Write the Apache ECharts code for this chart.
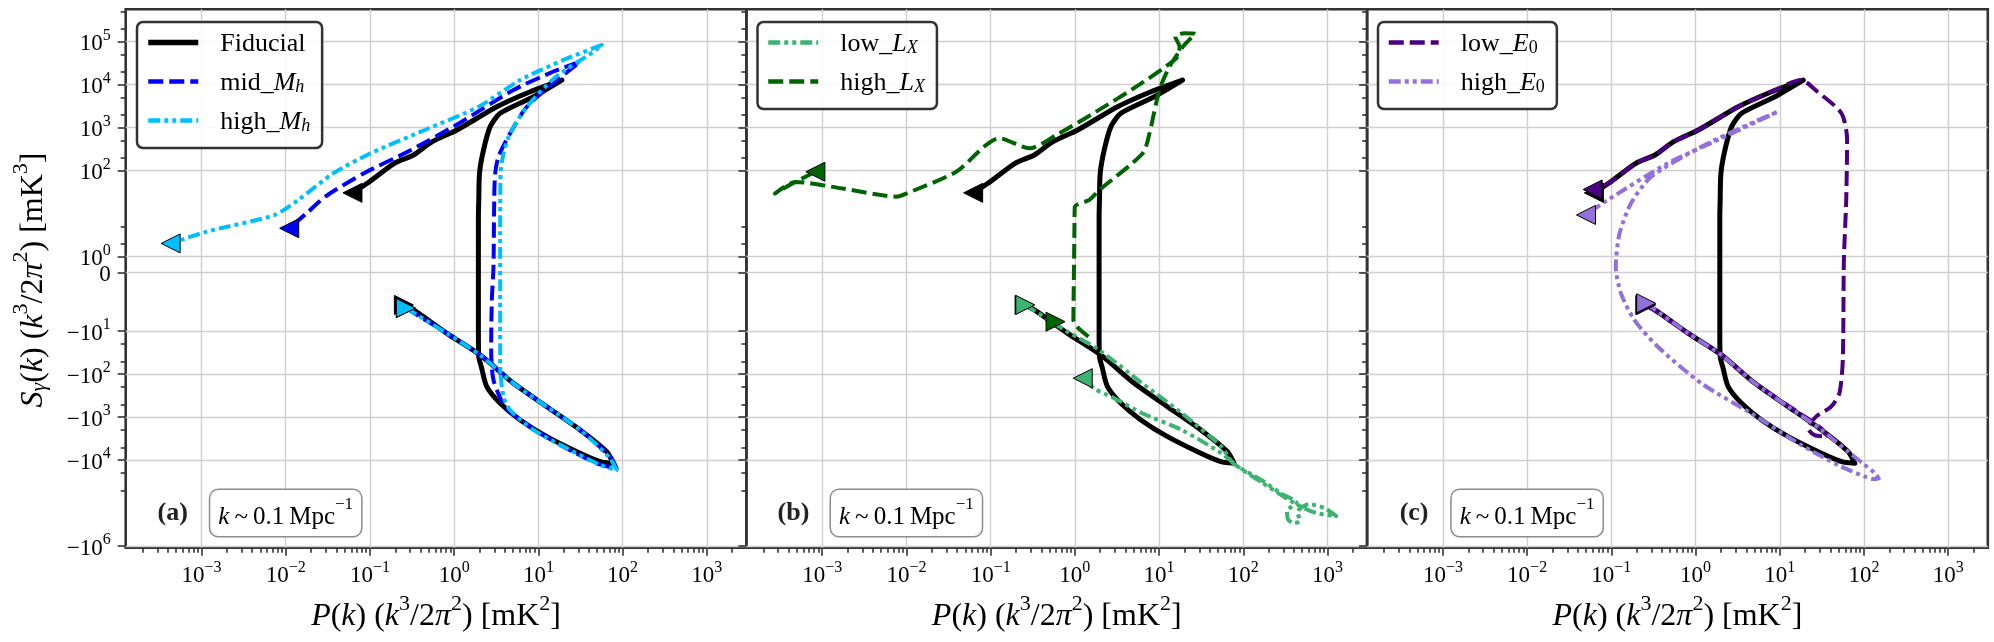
<!DOCTYPE html>
<html>
<head>
<meta charset="utf-8">
<script src="https://cdn.jsdelivr.net/npm/echarts@6/dist/echarts.min.js"></script>
<style>
  html, body { margin: 0; padding: 0; background: #fff; }
  #chart { width: 1994px; height: 642px; }
</style>
</head>
<body>
<div id="chart"></div>
<script>
// each curve: [P(k), S(k)] pairs, ordered from the ▶ end to the ◀ end
const fiducial = [
  [0.253, -2.45], [0.33, -3.2], [0.82, -11.2], [2.04, -36], [5.07, -163], [12.6, -570],
  [31.3, -1980], [64.6, -6300], [77.6, -11800], [54.2, -10800], [31.3, -6900], [12.6, -2840],
  [6.08, -1160], [3.52, -475], [2.44, -195], [2.1, -67], [1.96, -39], [1.94, -10], [1.94, -1],
  [1.94, 1], [1.94, 8], [1.96, 20.6], [2.0, 86], [2.23, 296], [2.68, 1040], [3.52, 2130],
  [8.75, 5150], [19, 12600], [8.0, 6760], [3.21, 3020], [1.08, 870], [0.55, 465], [0.33, 228],
  [0.195, 146], [0.093, 50], [0.062, 30]
];
const midMh = [
  [0.267, -2.9], [0.82, -11.2], [2.04, -36], [5.07, -163], [12.6, -570], [31.3, -1980],
  [71.3, -8300], [85, -15400], [49.5, -11800], [19.9, -4850], [8.0, -1660], [4.04, -570],
  [2.93, -136], [2.75, -27], [2.8, -1.9], [2.93, 0.35], [2.99, 20.6], [3.07, 85], [3.36, 209],
  [4.62, 730], [7.3, 3020], [15.1, 10600], [31.3, 33600], [15.1, 19900], [5.07, 7400],
  [1.15, 1250], [0.28, 270], [0.084, 85], [0.0295, 24.5], [0.0176, 10], [0.011, 4.5]
];
const highMh = [
  [0.267, -2.9], [0.82, -11.2], [2.04, -36], [5.07, -163], [12.6, -570], [31.3, -1980],
  [71, -9000], [85, -17000], [54.2, -12900], [21.8, -5300], [8.75, -1980], [4.62, -680],
  [3.86, -333], [3.52, -67], [3.52, -1.9], [3.52, 3.4], [3.56, 85], [3.86, 250], [4.62, 730],
  [7.3, 3020], [16.2, 15100], [45.2, 57500], [56.8, 82400], [19.9, 37000], [6.08, 12600],
  [1.95, 3020], [0.45, 870], [0.102, 250], [0.0366, 85], [0.0141, 20.6], [0.0074, 9.2],
  [0.00115, 3.75], [0.00043, 2.0]
];
const lowLx = [
  [0.258, -2.45], [0.8, -10], [1.92, -27], [6.3, -163], [18.6, -810], [55, -4850], [76, -11800],
  [163, -28800], [280, -58900], [431, -100000], [330, -150000], [340, -240000], [400, -290000],
  [470, -260000], [440, -160000], [600, -105000], [920, -130000], [1270, -200000], [740, -170000],
  [500, -125000], [300, -70000], [170, -34000], [90, -15000], [55, -6900], [18.6, -1980],
  [6.3, -810], [2.95, -363], [1.72, -220], [1.24, -124]
];
const highLx = [
  [0.59, -6.0], null,
  [1.45, -13.4], [1.06, -7.9], [0.96, -5.5], [0.97, -1], [0.98, 1], [0.99, 6], [1.0, 14.3],
  [1.49, 20.6], [1.96, 35], [6.4, 250], [7.7, 730], [10.1, 7400], [13.3, 25900], [19.2, 75300],
  [24, 120000], [27, 150000], [20, 155000], [15.5, 130000], [17.5, 75000], [16, 40400],
  [5.35, 8830], [1.79, 2320], [0.6, 660], [0.289, 326], [0.127, 557], [0.039, 93], [0.01, 29],
  [0.0076, 24.5], [0.00173, 38], [0.00048, 54], [0.000275, 29], [0.00048, 54], [0.00083, 93]
];
const lowE0 = [
  [0.26, -2.45], [0.82, -11.2], [2.04, -36], [5.07, -163], [17.9, -850], [31, -1810],
  [37.3, -2840], [25.9, -2600], [21.6, -1810], [27, -970], [40.7, -570], [51, -277], [56, -47],
  [57.7, 0.77], [61.5, 20.6], [63, 510], [54, 2130], [28, 6760], [17.9, 12600], [8.0, 6760],
  [3.21, 3020], [1.08, 870], [0.55, 465], [0.33, 228], [0.195, 146], [0.093, 50], [0.06, 36]
];
const highE0 = [
  [0.259, -2.24], [0.82, -11.2], [2.04, -36], [5.07, -163], [12.6, -570], [31.3, -1980],
  [64.6, -6300], [100, -12500], [135, -20000], [150, -27000], [125, -27500], [103, -24200],
  [53.7, -14100], [17.9, -4430], [4.57, -810], [1.17, -163], [0.356, -23], [0.188, -5.5],
  [0.13, -1.32], [0.113, 0.35], [0.125, 3.4], [0.172, 17.4], [0.297, 71], [1.17, 355],
  [4.57, 1250], [9.5, 2320], [1.84, 510], [0.468, 146], [0.091, 20.6], [0.05, 9.2]
];

const xTickExps = [-3, -2, -1, 0, 1, 2, 3];
const yTicks = [1e5, 1e4, 1e3, 1e2, 1, 0, -10, -100, -1e3, -1e4, -1e6];
const yMinorTicks = [5e5, 2e5, 5e4, 2e4, 5e3, 2e3, 500, 200, 5, 2,
  -20, -50, -200, -500, -2e3, -5e3, -2e4, -5e4];

const curveData = {
  'Fiducial': fiducial, 'mid_Mh': midMh, 'high_Mh': highMh,
  'low_Lx': lowLx, 'high_Lx': highLx, 'low_E0': lowE0, 'high_E0': highE0
};

const DASH = [15, 6];
const DASH_DOT_DOT = [12, 4, 4, 4, 4, 4];
const styles = {
  'Fiducial': { color: '#000000', width: 5, type: 'solid' },
  'mid_Mh': { color: '#0000ff', width: 4, type: DASH },
  'high_Mh': { color: '#00bfff', width: 4, type: DASH_DOT_DOT },
  'low_Lx': { color: '#3cb371', width: 4, type: DASH_DOT_DOT },
  'high_Lx': { color: '#006400', width: 4, type: DASH },
  'low_E0': { color: '#4b0082', width: 4, type: DASH },
  'high_E0': { color: '#9370db', width: 4, type: DASH_DOT_DOT }
};

const panels = [
  { label: '(a)', curves: ['Fiducial', 'mid_Mh', 'high_Mh'], legend: ['Fiducial', 'mid_Mh', 'high_Mh'] },
  { label: '(b)', curves: ['Fiducial', 'low_Lx', 'high_Lx'], legend: ['low_Lx', 'high_Lx'] },
  { label: '(c)', curves: ['Fiducial', 'low_E0', 'high_E0'], legend: ['low_E0', 'high_E0'] }
];

const SERIF = '"Liberation Serif", "DejaVu Serif", serif';
const GRID_LEFT = [125.7, 746.4, 1367.1];
const GRID_W = 620.7, GRID_TOP = 9.3, GRID_H = 538.4;
const X_MIN = -3.9, X_MAX = 3.47;
const Y_MIN = -6.405, Y_MAX = 6.116;
const LIN = 0.37; // length of the linear part [0, 1] in decades

// symmetric log, linear inside |v| < 1
function symlog(v) {
  const a = Math.abs(v);
  if (a < 1) return v * LIN;
  return Math.sign(v) * (LIN + Math.log10(a));
}

const xMinor = [];
for (let n = -4; n <= 3; n++) {
  for (let k = 2; k <= 9; k++) {
    const v = n + Math.log10(k);
    if (v > X_MIN && v < X_MAX) xMinor.push(v);
  }
}

const tickRich = {
  b: { fontFamily: SERIF, fontSize: 23, lineHeight: 28, verticalAlign: 'bottom', color: '#000' },
  s: { fontFamily: SERIF, fontSize: 16, lineHeight: 16, verticalAlign: 'top', color: '#000' }
};

function xLabel(v) {
  const e = Math.round(v);
  return '{b|10}{s|' + (e < 0 ? '\u2212' + (-e) : e) + '}';
}
function yLabel(v) {
  const tick = yTicks.find(t => Math.abs(symlog(t) - v) < 1e-6);
  if (tick === undefined) return '';
  if (tick === 0) return '{b|0}';
  const e = Math.round(Math.log10(Math.abs(tick)));
  return '{b|' + (tick < 0 ? '\u221210' : '10') + '}{s|' + e + '}';
}

const tickLine = { color: '#333', width: 1.6 };
const grids = [], xAxes = [], yAxes = [], series = [], legends = [], graphics = [];

GRID_LEFT.forEach((left, i) => {
  grids.push({
    left: left, top: GRID_TOP, width: GRID_W, height: GRID_H,
    show: true, borderColor: '#333', borderWidth: 2.6, backgroundColor: 'transparent'
  });
  xAxes.push({
    type: 'value', gridIndex: i, min: X_MIN, max: X_MAX, position: 'bottom',
    axisLine: { show: false, onZero: false },
    axisTick: { show: true, length: 8, lineStyle: tickLine, customValues: xTickExps },
    axisLabel: { show: true, margin: 12, customValues: xTickExps, formatter: xLabel, rich: tickRich },
    splitLine: { show: true, lineStyle: { color: '#cfcfcf', width: 1.4 } }
  });
  xAxes.push({
    type: 'value', gridIndex: i, min: X_MIN, max: X_MAX, position: 'bottom',
    axisLine: { show: false, onZero: false },
    axisTick: { show: true, length: 5, lineStyle: tickLine, customValues: xMinor },
    axisLabel: { show: false },
    splitLine: { show: false }
  });
  const yMajor = yTicks.map(symlog);
  yAxes.push({
    type: 'value', gridIndex: i, min: Y_MIN, max: Y_MAX, position: 'left',
    axisLine: { show: false, onZero: false },
    axisTick: { show: true, length: 8, lineStyle: tickLine, customValues: yMajor },
    axisLabel: { show: i === 0, margin: 15, customValues: yMajor, formatter: yLabel, rich: tickRich },
    splitLine: { show: true, lineStyle: { color: '#cfcfcf', width: 1.4 } }
  });
  yAxes.push({
    type: 'value', gridIndex: i, min: Y_MIN, max: Y_MAX, position: 'left',
    axisLine: { show: false, onZero: false },
    axisTick: { show: true, length: 5, lineStyle: tickLine, customValues: yMinorTicks.map(symlog) },
    axisLabel: { show: false },
    splitLine: { show: false }
  });
});

function toXY(pt) {
  return pt ? [Math.log10(pt[0]), symlog(pt[1])] : ['-', '-'];
}

panels.forEach((p, i) => {
  p.curves.forEach(name => {
    const st = styles[name];
    series.push({
      type: 'line', name: name, xAxisIndex: 2 * i, yAxisIndex: 2 * i,
      data: curveData[name].map(toXY),
      symbol: 'none', showSymbol: false, smooth: 0.25, connectNulls: false,
      color: st.color,
      lineStyle: { color: st.color, width: st.width, type: st.type, cap: 'butt', join: 'round' },
      z: 2, silent: true
    });
  });
  p.curves.forEach(name => {
    const pts = curveData[name].filter(Boolean);
    series.push({
      type: 'scatter', xAxisIndex: 2 * i, yAxisIndex: 2 * i,
      symbol: 'triangle', symbolSize: 19,
      itemStyle: { color: styles[name].color, borderColor: '#000', borderWidth: 1, opacity: 1 },
      data: [
        { value: toXY(pts[0]), symbolRotate: -90 },
        { value: toXY(pts[pts.length - 1]), symbolRotate: 90 }
      ],
      z: 3, silent: true
    });
  });
});

const legendRich = {
  r: { fontFamily: SERIF, fontSize: 26, lineHeight: 30, verticalAlign: 'bottom', color: '#000' },
  i: { fontFamily: SERIF, fontSize: 26, lineHeight: 30, verticalAlign: 'bottom', fontStyle: 'italic', color: '#000' },
  sub: { fontFamily: SERIF, fontSize: 18, lineHeight: 18, verticalAlign: 'bottom', fontStyle: 'italic', color: '#000' },
  sub0: { fontFamily: SERIF, fontSize: 18, lineHeight: 18, verticalAlign: 'bottom', color: '#000' }
};
const legendText = {
  'Fiducial': '{r|Fiducial}',
  'mid_Mh': '{r|mid_}{i|M}{sub|h}',
  'high_Mh': '{r|high_}{i|M}{sub|h}',
  'low_Lx': '{r|low_}{i|L}{sub|X}',
  'high_Lx': '{r|high_}{i|L}{sub|X}',
  'low_E0': '{r|low_}{i|E}{sub0|0}',
  'high_E0': '{r|high_}{i|E}{sub0|0}'
};
const legendLeft = [137, 757.5, 1378];
panels.forEach((p, i) => {
  legends.push({
    data: p.legend.map(name => ({
      name: name,
      itemStyle: { opacity: 0, borderWidth: 0 },
      lineStyle: { color: styles[name].color, width: styles[name].width + 0.5, type: styles[name].type, opacity: 1 }
    })),
    left: legendLeft[i], top: 22, orient: 'vertical',
    itemWidth: 50, itemHeight: 14, itemGap: 9,
    padding: [5.5, 12, 12.5, 8.5],
    borderColor: '#333', borderWidth: 2.5, borderRadius: 6,
    backgroundColor: 'rgba(255,255,255,0.85)',
    selectedMode: false,
    formatter: name => legendText[name],
    textStyle: { fontFamily: SERIF, fontSize: 26, lineHeight: 30, color: '#000', padding: [0, 0, 0, 17], rich: legendRich }
  });
});

const titleRich = {
  r: { fontFamily: SERIF, fontSize: 32, lineHeight: 40, verticalAlign: 'bottom', fill: '#000' },
  i: { fontFamily: SERIF, fontSize: 32, lineHeight: 40, verticalAlign: 'bottom', fontStyle: 'italic', fill: '#000' },
  sup: { fontFamily: SERIF, fontSize: 22, lineHeight: 22, verticalAlign: 'top', fill: '#000' },
  sub: { fontFamily: SERIF, fontSize: 22, lineHeight: 22, verticalAlign: 'bottom', fontStyle: 'italic', fill: '#000' }
};
const xTitle = '{i|P}{r|(}{i|k}{r|) (}{i|k}{sup|3}{r|/2}{i|\u03c0}{sup|2}{r|) [mK}{sup|2}{r|]}';
const yTitle = '{i|S}{sub|\u03b3}{r|(}{i|k}{r|) (}{i|k}{sup|3}{r|/2}{i|\u03c0}{sup|2}{r|) [mK}{sup|3}{r|]}';

const boxRich = {
  r: { fontFamily: SERIF, fontSize: 25, lineHeight: 34, verticalAlign: 'bottom', fill: '#000' },
  i: { fontFamily: SERIF, fontSize: 25, lineHeight: 34, verticalAlign: 'bottom', fontStyle: 'italic', fill: '#000' },
  sup: { fontFamily: SERIF, fontSize: 17, lineHeight: 17, verticalAlign: 'top', fill: '#000' }
};

graphics.push({
  type: 'text', x: 30, y: 280, rotation: Math.PI / 2,
  style: { text: yTitle, rich: titleRich, align: 'center', verticalAlign: 'middle' }
});
panels.forEach((p, i) => {
  const left = GRID_LEFT[i];
  graphics.push({
    type: 'text', x: left + GRID_W / 2, y: 613,
    style: { text: xTitle, rich: titleRich, align: 'center', verticalAlign: 'middle' }
  });
  graphics.push({
    type: 'text', x: left + 47, y: 513,
    style: { text: p.label, fontFamily: SERIF, fontSize: 26, fontWeight: 'bold', fill: '#222', align: 'center', verticalAlign: 'middle' }
  });
  graphics.push({
    type: 'text', x: left + 160, y: 513, z: 10,
    style: {
      text: '{i|k}{r|\u2009~\u20090.1\u2009Mpc}{sup|\u22121}', rich: boxRich,
      align: 'center', verticalAlign: 'middle',
      backgroundColor: '#fff', borderColor: '#8c8c8c', borderWidth: 1.5, borderRadius: 8,
      padding: [6, 8, 6, 8]
    }
  });
});

const chart = echarts.init(document.getElementById('chart'));
chart.setOption({
  animation: false,
  backgroundColor: '#fff',
  grid: grids,
  xAxis: xAxes,
  yAxis: yAxes,
  legend: legends,
  series: series,
  graphic: graphics
});
</script>
</body>
</html>
